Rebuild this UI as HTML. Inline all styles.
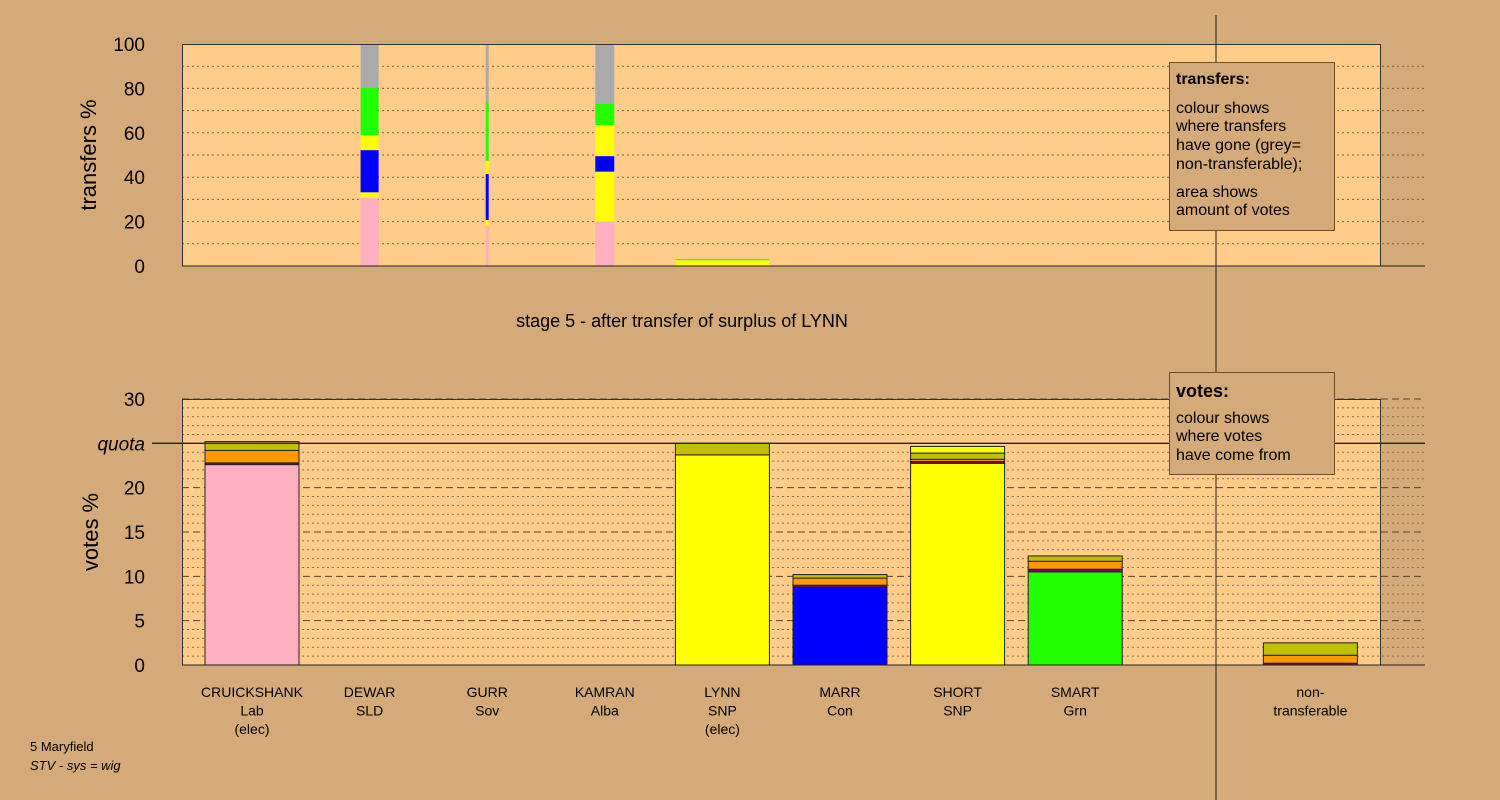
<!DOCTYPE html>
<html><head><meta charset="utf-8"><style>
body{margin:0;background:#d4aa78;}
svg{display:block;font-family:"Liberation Sans",sans-serif;}
</style></head><body>
<svg id="c" width="1500" height="800" xmlns="http://www.w3.org/2000/svg">
<rect width="1500" height="800" fill="#d4aa78"/>
<g id="topg"></g>
<g id="botg"></g>
<line x1="1216" y1="15" x2="1216" y2="800" stroke="#222" stroke-width="1"/>
<g>
<rect x="1169.5" y="62.5" width="165" height="168" fill="#d4aa78" stroke="#6b4f2e"/>
<text x="1176" y="84" font-size="16" font-weight="bold">transfers:</text>
<text font-size="16"><tspan x="1176" y="113">colour shows</tspan><tspan x="1176" y="131">where transfers</tspan><tspan x="1176" y="150">have gone (grey=</tspan><tspan x="1176" y="169">non-transferable);</tspan><tspan x="1176" y="197">area shows</tspan><tspan x="1176" y="215">amount of votes</tspan></text>
</g>
<g>
<rect x="1169.5" y="372.5" width="165" height="102" fill="#d4aa78" stroke="#6b4f2e"/>
<text x="1176" y="397" font-size="18" font-weight="bold">votes:</text>
<text font-size="16"><tspan x="1176" y="423">colour shows</tspan><tspan x="1176" y="441">where votes</tspan><tspan x="1176" y="460">have come from</tspan></text>
</g>
<text x="682" y="327" font-size="18" text-anchor="middle">stage 5 - after transfer of surplus of LYNN</text>
<text x="30" y="751" font-size="13">5 Maryfield</text>
<text x="30" y="770" font-size="13" font-style="italic">STV - sys = wig</text>
</svg>
<script>
const names=["CRUICKSHANK","DEWAR","GURR","KAMRAN","LYNN","MARR","SHORT","SMART","","non-"];
const parties=["Lab","SLD","Sov","Alba","SNP","Con","SNP","Grn","","transferable"];
const elected=["(elec)","","","","(elec)","","","","",""];
const C={pink:"#ffb0c0",yellow:"#ffff00",blue:"#0000ff",green:"#22ff00",grey:"#aaaaaa",orange:"#ff9900",olive:"#c0c000",purple:"#800080"};
const tSlots=[1,2,3,4];
const tWidths=[18,3,19,93];
const tSegs=[
 [["pink",30.8],["yellow",33.2],["blue",52.2],["yellow",59],["green",80.5],["grey",100]],
 [["pink",18],["yellow",20.7],["blue",41.4],["yellow",47.4],["green",73.7],["grey",100]],
 [["pink",20],["yellow",42.5],["blue",49.5],["yellow",63.5],["green",73],["grey",100]],
 [["yellow",2.6],["green",3.1]]
];
const tTicks=[0,20,40,60,80,100];
const vSlots=[0,4,5,6,7,9];
const vSegs=[
 [["pink",22.6],["purple",22.8],["orange",24.2],["olive",25.2]],
 [["yellow",23.7],["olive",25.0]],
 [["blue",8.8],["purple",9.0],["orange",9.8],["olive",10.2]],
 [["yellow",22.75],["purple",22.95],["orange",23.2],["olive",23.9],["yellow",24.65]],
 [["green",10.5],["purple",10.8],["orange",11.7],["olive",12.3]],
 [["purple",0.2],["orange",1.1],["olive",2.5]]
];
const vTicks=[0,5,10,15,20,25,30];
const quota=25;

const NS="http://www.w3.org/2000/svg";
function mk(p,t,a){const e=document.createElementNS(NS,t);for(const k in a)e.setAttribute(k,a[k]);p.appendChild(e);return e;}
const X0=182,X1=1380,XG=1425;
const slotX=i=>252+i*117.6;
const ty=v=>266-v*2.22;
const vy=v=>665-v*(266/30);

const topG=document.getElementById('topg'), botG=document.getElementById('botg');
let r=mk(topG,'rect',{x:X0,y:44,width:X1-X0,height:222,fill:"#ffcc8a"});


for(let v=10;v<100;v+=10){let l=mk(topG,'line',{x1:X0,x2:XG,y1:ty(v),y2:ty(v),stroke:"#7a6040","stroke-dasharray":"2,3","stroke-width":1});

}
tSlots.forEach((s,i)=>{let prev=0;const w=tWidths[i];tSegs[i].forEach(([c,v])=>{
 let b=mk(topG,'rect',{x:slotX(s)-w/2,y:ty(v),width:w,height:ty(prev)-ty(v),fill:C[c]});
 
 
 prev=v;});});
r=mk(topG,'rect',{x:X0+.5,y:44.5,width:X1-X0,height:221.5,fill:"none",stroke:"#333"});


mk(topG,'line',{x1:X0,x2:XG,y1:266,y2:266,stroke:"#222"});
tTicks.forEach(v=>{let t=mk(topG,'text',{x:145,y:ty(v)+7,"font-size":19,"text-anchor":"end"});t.textContent=v;

});
let yt=mk(topG,'text',{x:96,y:155,"font-size":22,"text-anchor":"middle",transform:"rotate(-90 96 155)"});yt.textContent="transfers %";



r=mk(botG,'rect',{x:X0,y:399,width:X1-X0,height:266,fill:"#ffcc8a"});


for(let v=1;v<=30;v++){if(v===quota)continue;const major=v%5===0;
 let l=mk(botG,'line',{x1:X0,x2:XG,y1:vy(v),y2:vy(v),stroke:major?"#5a4530":"#8a7050","stroke-dasharray":major?"7,4":"2,3","stroke-width":1});
 
 }
vSlots.forEach((s,i)=>{let prev=0;vSegs[i].forEach(([c,v])=>{
 let b=mk(botG,'rect',{x:slotX(s)-47,y:vy(v),width:94,height:vy(prev)-vy(v),fill:C[c],stroke:"#222","stroke-width":1});
 
 
 prev=v;});});
r=mk(botG,'rect',{x:X0+.5,y:399.5,width:X1-X0,height:265.5,fill:"none",stroke:"#333"});


let q=mk(botG,'line',{x1:X0-30,x2:XG,y1:vy(quota),y2:vy(quota),stroke:"#222","stroke-width":1.3});


mk(botG,'line',{x1:X0,x2:XG,y1:665,y2:665,stroke:"#222"});
vTicks.forEach(v=>{let t=mk(botG,'text',{x:145,y:vy(v)+7,"font-size":19,"text-anchor":"end"});t.textContent=(v===quota)?"quota":v;
 if(v===quota)t.setAttribute('font-style','italic');
 
 });
yt=mk(botG,'text',{x:98,y:532,"font-size":22,"text-anchor":"middle",transform:"rotate(-90 98 532)"});yt.textContent="votes %";


names.forEach((n,i)=>{if(!n)return;[n,parties[i],elected[i]].forEach((s,j)=>{if(!s)return;
 let t=mk(botG,'text',{x:slotX(i),y:697+j*18.5,"font-size":14,"text-anchor":"middle"});t.textContent=s;
 
 });});
</script>
</body></html>
